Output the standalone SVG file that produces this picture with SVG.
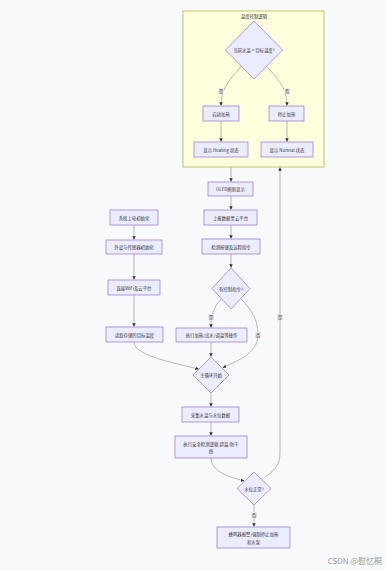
<svg xmlns="http://www.w3.org/2000/svg" width="385" height="571" viewBox="0 0 385 571">
<defs>
<marker id="arr" viewBox="0 0 10 10" refX="9" refY="5" markerUnits="userSpaceOnUse" markerWidth="3.5" markerHeight="3.5" orient="auto">
<path d="M0,0 L10,5 L0,10 z" fill="#333"/>
</marker>
<style>
.n{fill:#ECECFF;stroke:#9370DB;stroke-width:0.7}
.t{font-family:"Noto Sans CJK SC","Liberation Sans",sans-serif;font-size:4.4px;fill:#333;text-anchor:middle;dominant-baseline:central}
.e{fill:none;stroke:#999;stroke-width:0.7;marker-end:url(#arr)}
.lb{fill:#e8e8e8}
.lt{font-family:"Noto Sans CJK SC","Liberation Sans",sans-serif;font-size:4.2px;fill:#333;text-anchor:middle;dominant-baseline:central}
</style>
</defs>
<rect width="385" height="571" fill="#f8f9fb"/>
<g id="subgraph-temp">
<rect x="183" y="11" width="141" height="156" fill="#ffffde" stroke="#aaaa33" stroke-width="0.7"/>
<text class="t" x="254" y="15.5">温度控制逻辑</text>
</g>
<g id="connectors">
<path class="e" d="M243,64 C232,78 221,86 221,105.5"/>
<path class="e" d="M265,64 C276,78 287,86 287,105.5"/>
<path class="e" d="M221,121 L221,141.5"/>
<path class="e" d="M287,121 L287,141.5"/>
<path class="e" d="M231,167 L231,181.5"/>
<path class="e" d="M231,196 L231,209.5"/>
<path class="e" d="M231,225 L231,238.5"/>
<path class="e" d="M231,254 L231,267.5"/>
<path class="e" d="M221,299 C213,308 211,316 211,327.5"/>
<path class="e" d="M241,299 C252,310 258,320 258,335 C258,352 240,360 223,367.5"/>
<path class="e" d="M134,225 L134,239.5"/>
<path class="e" d="M134,254 L134,279.5"/>
<path class="e" d="M134,295 L134,326.5"/>
<path class="e" d="M134,342 C134,355 170,362 198.5,369"/>
<path class="e" d="M211,342 L211,356.5"/>
<path class="e" d="M211,393 L211,406.5"/>
<path class="e" d="M211,422 L211,435.5"/>
<path class="e" d="M211,458 C211,470 225,476 244,481"/>
<path class="e" d="M254,505 L254,526.5"/>
<path class="e" d="M265,477 C275,470 280,465 280,452 L280,167.5"/>
<rect class="lb" x="218" y="88" width="6" height="6.5"/>
<text class="lt" x="221" y="91.3">是</text>
<rect class="lb" x="284" y="88" width="6" height="6.5"/>
<text class="lt" x="287" y="91.3">否</text>
<rect class="lb" x="208" y="314" width="6" height="6.5"/>
<text class="lt" x="211" y="317.3">是</text>
<rect class="lb" x="255" y="332" width="6" height="6.5"/>
<text class="lt" x="258" y="335.3">否</text>
<rect class="lb" x="251" y="512" width="6" height="6.5"/>
<text class="lt" x="254" y="515.3">否</text>
<rect class="lb" x="277" y="314" width="6" height="6.5"/>
<text class="lt" x="280" y="317.3">是</text>
</g>
<g id="node-cmp">
<polygon class="n" points="254,21 282.5,50 254,79 225.5,50"/>
<text class="t" x="254" y="50">当前水温 &lt; 目标温度?</text>
</g>
<g id="node-heat-on">
<rect class="n" x="203" y="106" width="36" height="15"/>
<text class="t" x="221" y="113.5">启动加热</text>
</g>
<g id="node-heat-off">
<rect class="n" x="269" y="106" width="35" height="15"/>
<text class="t" x="286.5" y="113.5">停止加热</text>
</g>
<g id="node-show-heating">
<rect class="n" x="194" y="142" width="54" height="15"/>
<text class="t" x="221" y="149.5">显示 Heating 状态</text>
</g>
<g id="node-show-normal">
<rect class="n" x="261" y="142" width="52" height="15"/>
<text class="t" x="287" y="149.5">显示 Normal 状态</text>
</g>
<g id="node-oled">
<rect class="n" x="208" y="182" width="45" height="14"/>
<text class="t" x="230.5" y="189">OLED刷新显示</text>
</g>
<g id="node-upload">
<rect class="n" x="204" y="210" width="53" height="15"/>
<text class="t" x="230.5" y="217.5">上报数据至云平台</text>
</g>
<g id="node-detect">
<rect class="n" x="202" y="239" width="58" height="15"/>
<text class="t" x="231" y="246.5">检测按键及远程指令</text>
</g>
<g id="node-hascmd">
<polygon class="n" points="231,268 250,288.5 231,309 212,288.5"/>
<text class="t" x="231" y="288.5">有控制指令?</text>
</g>
<g id="node-exec">
<rect class="n" x="176" y="328" width="71" height="14"/>
<text class="t" x="211.5" y="335">执行加热/出水/调温等操作</text>
</g>
<g id="node-poweron">
<rect class="n" x="110" y="210" width="48" height="15"/>
<text class="t" x="134" y="217.5">系统上电初始化</text>
</g>
<g id="node-periph">
<rect class="n" x="106" y="240" width="56" height="14"/>
<text class="t" x="134" y="247">外设与传感器初始化</text>
</g>
<g id="node-wifi">
<rect class="n" x="108" y="280" width="52" height="15"/>
<text class="t" x="134" y="287.5">连接WiFi及云平台</text>
</g>
<g id="node-read">
<rect class="n" x="106" y="327" width="57" height="15"/>
<text class="t" x="134.5" y="334.5">读取存储的目标温度</text>
</g>
<g id="node-mainloop">
<polygon class="n" points="211,357 229,375 211,393 193,375"/>
<text class="t" x="211" y="375">主循环开始</text>
</g>
<g id="node-collect">
<rect class="n" x="182" y="407" width="57" height="15"/>
<text class="t" x="210.5" y="414.5">采集水温与水位数据</text>
</g>
<g id="node-safety">
<rect class="n" x="175" y="436" width="72" height="22"/>
<text class="t" x="211" y="443.5">执行安全检测逻辑 超温/防干</text>
<text class="t" x="211" y="451">烧</text>
</g>
<g id="node-level">
<polygon class="n" points="254,472 271,488.5 254,505 237,488.5"/>
<text class="t" x="254" y="488.5">水位正常?</text>
</g>
<g id="node-alarm">
<rect class="n" x="217" y="527" width="73" height="21"/>
<text class="t" x="253.5" y="534">蜂鸣器报警/强制停止加热</text>
<text class="t" x="253.5" y="541.5">和水泵</text>
</g>
<text x="382" y="564" font-family="Noto Sans CJK SC, Liberation Sans, sans-serif" font-size="8" fill="#999" text-anchor="end">CSDN @慰忆桐</text>
</svg>
